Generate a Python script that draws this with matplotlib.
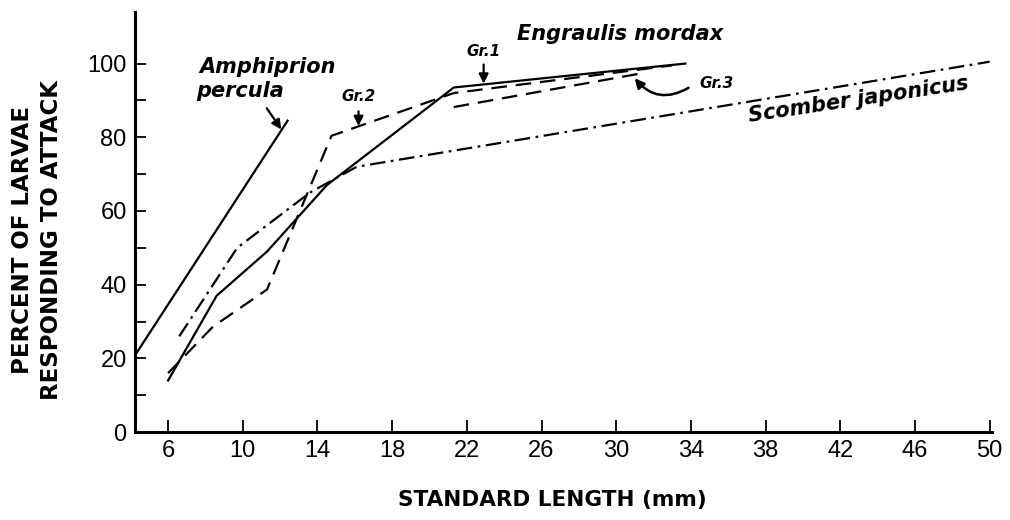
#!/usr/bin/env python3
"""Escape response of fish larvae vs standard length (redrawn figure)."""

import matplotlib

matplotlib.use("Agg")
import matplotlib.pyplot as plt
from matplotlib.ticker import FixedLocator

# Amphiprion percula
AMPH_X = [4.25, 12.4]
AMPH_Y = [21.0, 84.5]

# Engraulis mordax, group 1 (solid)
GR1_X = [6.0, 8.6, 11.3, 14.5, 21.3, 33.7]
GR1_Y = [14.0, 37.0, 49.0, 67.0, 93.5, 100.0]

# Engraulis mordax, group 2 (dashed)
GR2_X = [6.0, 8.4, 11.3, 14.75, 21.3, 33.0]
GR2_Y = [16.0, 28.6, 38.7, 80.4, 92.0, 99.5]

# Engraulis mordax, group 3 (dashed)
GR3_X = [21.3, 31.3]
GR3_Y = [88.2, 97.3]

# Scomber japonicus (dash-dot)
SCOM_X = [6.6, 9.7, 13.6, 16.1, 50.0]
SCOM_Y = [26.0, 50.0, 65.0, 72.0, 100.5]

X_TICKS = [6, 10, 14, 18, 22, 26, 30, 34, 38, 42, 46, 50]
Y_TICKS = [0, 20, 40, 60, 80, 100]
Y_MINOR = [10, 30, 50, 70, 90]

plt.rcParams.update({
    "font.family": ["Liberation Sans", "DejaVu Sans"],
    "axes.linewidth": 2.2,
})

fig = plt.figure(figsize=(10.1, 5.2), dpi=100)
ax = fig.add_axes([0.1337, 0.169, 0.848, 0.808])

lw = 1.6
ax.plot(AMPH_X, AMPH_Y, color="black", lw=lw, clip_on=False)
ax.plot(GR1_X, GR1_Y, color="black", lw=lw)
ax.plot(GR2_X, GR2_Y, color="black", lw=lw, dashes=(7, 4))
ax.plot(GR3_X, GR3_Y, color="black", lw=lw, dashes=(7, 4))
ax.plot(SCOM_X, SCOM_Y, color="black", lw=lw, dashes=(7, 2.5, 1.2, 2.5), clip_on=False)

ax.set_xlim(4.23, 50.1)
ax.set_ylim(0, 114)
ax.set_xticks(X_TICKS)
ax.set_yticks(Y_TICKS)
ax.yaxis.set_minor_locator(FixedLocator(Y_MINOR))
ax.tick_params(which="both", direction="in", width=1.3, labelsize=17)
ax.tick_params(axis="x", length=9, pad=6)
ax.tick_params(axis="y", which="both", length=8, pad=6)
ax.tick_params(axis="y", which="minor", labelleft=False)
for side in ("top", "right"):
    ax.spines[side].set_visible(False)

ax.set_xlabel("STANDARD LENGTH (mm)", fontsize=15.5, fontweight="bold",
              family=["DejaVu Sans"])
ax.xaxis.set_label_coords(0.487, -0.138)
ax.set_ylabel("PERCENT OF LARVAE\nRESPONDING TO ATTACK", fontsize=16.5,
              fontweight="bold", family=["DejaVu Sans"], linespacing=1.35)
ax.yaxis.set_label_coords(-0.084, 0.457)

lab = dict(fontweight="bold", style="italic", family=["DejaVu Sans"], color="black")
arrow = dict(arrowstyle="-|>", color="black", lw=1.6, mutation_scale=14)

# Amphiprion label and arrow
ax.text(7.7, 99.2, "Amphiprion", fontsize=15, ha="left", va="center", **lab)
ax.text(7.5, 92.6, "percula", fontsize=15, ha="left", va="center", **lab)
ax.annotate("", xy=(12.15, 81.5), xytext=(11.2, 88.5), arrowprops=arrow)

# Engraulis labels
ax.text(30.2, 107.9, "Engraulis mordax", fontsize=15, ha="center", va="center", **lab)
ax.text(16.2, 91.0, "Gr.2", fontsize=11, ha="center", va="center", **lab)
ax.annotate("", xy=(16.2, 82.3), xytext=(16.2, 87.8), arrowprops=arrow)
ax.text(22.9, 103.3, "Gr.1", fontsize=11, ha="center", va="center", **lab)
ax.annotate("", xy=(22.9, 93.8), xytext=(22.9, 100.5), arrowprops=arrow)
ax.text(35.4, 94.6, "Gr.3", fontsize=11, ha="center", va="center", **lab)
ax.annotate("", xy=(30.9, 96.6), xytext=(34.0, 93.8),
            arrowprops=dict(arrowstyle="-|>", color="black", lw=1.8,
                            mutation_scale=14, connectionstyle="arc3,rad=-0.45"))

# Scomber label
ax.text(43.0, 90.3, "Scomber japonicus", fontsize=15, ha="center", va="center",
        rotation=8.5, **lab)

fig.savefig("out.png", dpi=100)
